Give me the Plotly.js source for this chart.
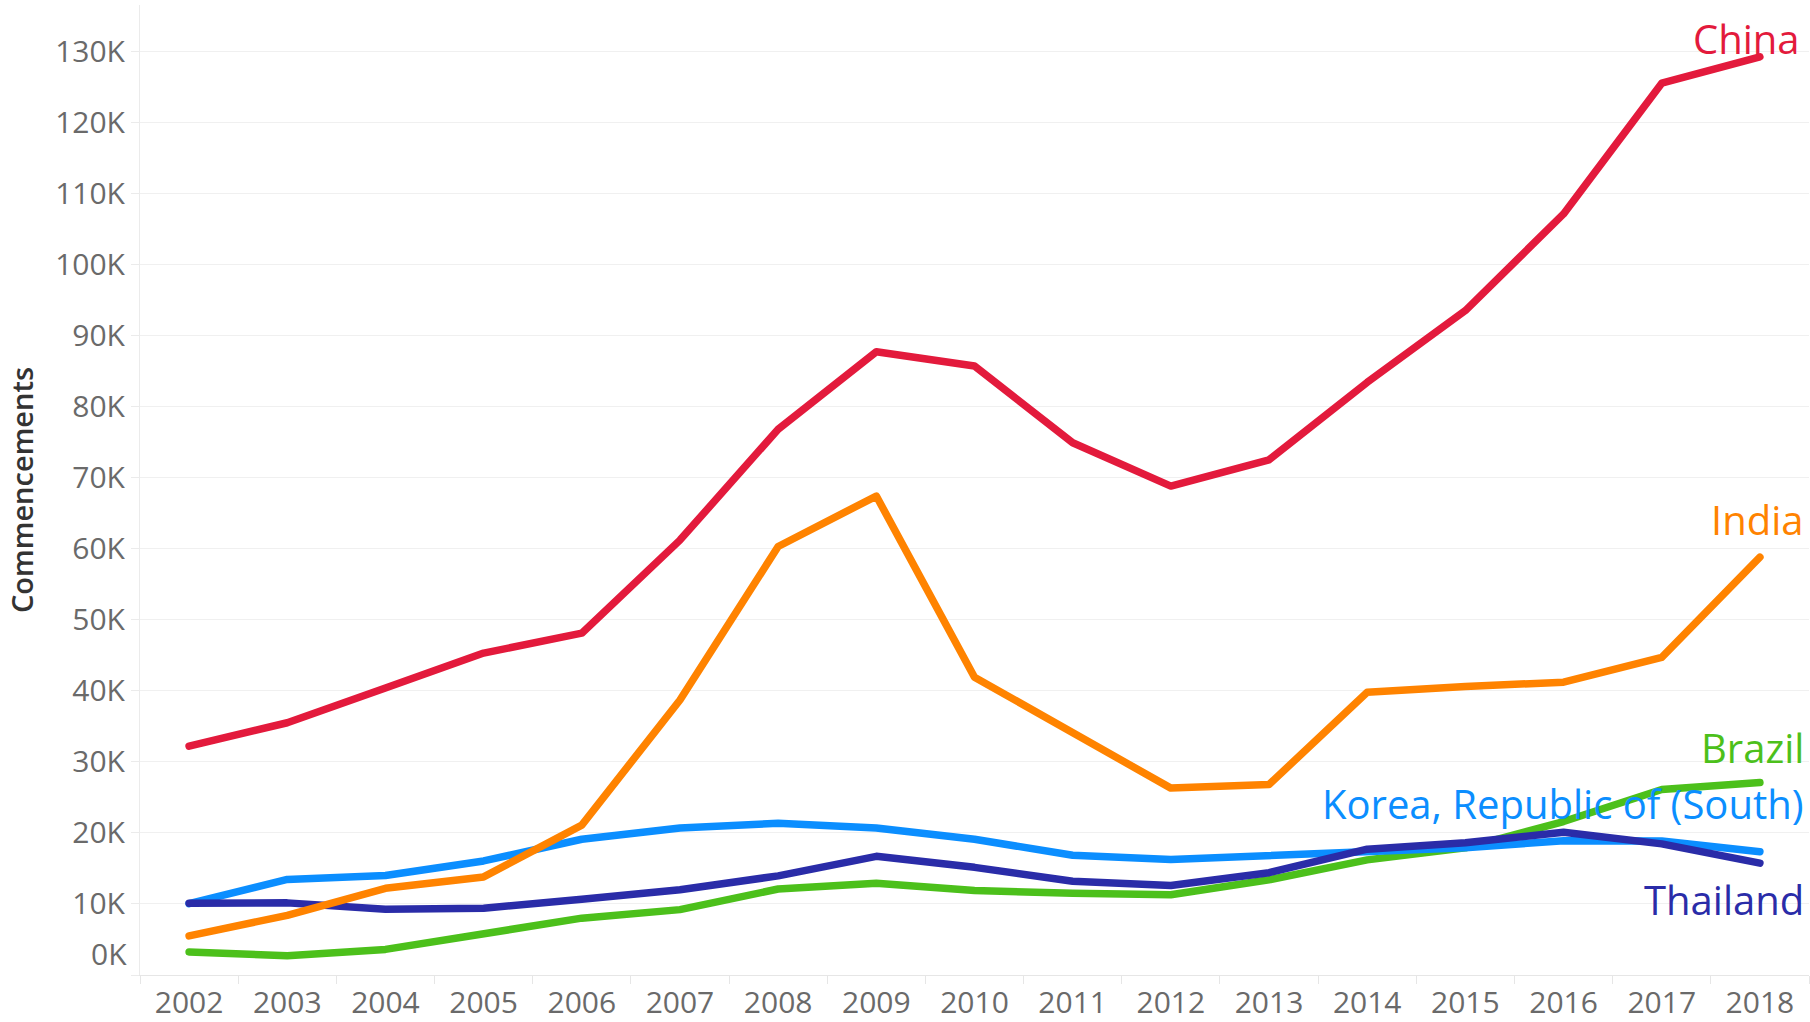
<!DOCTYPE html>
<html>
<head>
<meta charset="utf-8">
<script src="https://cdn.plot.ly/plotly-3.0.1.min.js"></script>
<style>
html, body { margin: 0; padding: 0; background: #ffffff; }
#chart { width: 1810px; height: 1022px; }
.scatterlayer .js-line { stroke-linecap: round; stroke-linejoin: round; }
</style>
</head>
<body>
<div id="chart"></div>
<script>
const years = ["2002","2003","2004","2005","2006","2007","2008","2009","2010","2011","2012","2013","2014","2015","2016","2017","2018"];

const china    = [32200, 35500, 40400, 45300, 48100, 61200, 76800, 87700, 85700, 74900, 68800, 72500, 83400, 93500, 107100, 125500, 129200];
const india    = [5500, 8400, 12200, 13800, 21100, 38700, 60300, 67400, 41900, 34100, 26300, 26800, 39800, 40600, 41200, 44700, 58800];
const brazil   = [3250, 2700, 3600, 5700, 8000, 9200, 12100, 12900, 11900, 11500, 11300, 13400, 16200, 17900, 21600, 26100, 27100];
const korea    = [10050, 13450, 14000, 16050, 19100, 20700, 21350, 20700, 19100, 16850, 16250, 16750, 17250, 17900, 18900, 18850, 17350];
const thailand = [10100, 10150, 9250, 9400, 10650, 12000, 13950, 16700, 15150, 13200, 12600, 14400, 17700, 18600, 20100, 18450, 15750];

const seriesNames = ["Brazil", "Korea, Republic of (South)", "Thailand", "India", "China"];
const seriesData = [brazil, korea, thailand, india, china];
const seriesColors = ["#4CC01B", "#0B8EFF", "#2A2CA8", "#FF8300", "#E31A3C"];
const labelYShift = [35, 48, -36, 38, 18];

const yTickVals = [0, 10000, 20000, 30000, 40000, 50000, 60000, 70000, 80000, 90000, 100000, 110000, 120000, 130000];
const yTickText = ["", "10K", "20K", "30K", "40K", "50K", "60K", "70K", "80K", "90K", "100K", "110K", "120K", "130K"];
const zeroLabel = "0K";
const yTitle = "Commencements";

const traces = seriesNames.map((name, i) => ({
  type: "scatter",
  mode: "lines",
  name: name,
  x: years,
  y: seriesData[i],
  line: { color: seriesColors[i], width: 7.5 },
  hoverinfo: "skip"
}));

const lastIndex = years.length - 1;
const annotations = seriesNames.map((name, i) => ({
  x: lastIndex,
  y: seriesData[i][lastIndex],
  xref: "x", yref: "y",
  text: name,
  showarrow: false,
  xanchor: "right", yanchor: "middle",
  xshift: name === "China" ? 42 : 46,
  yshift: labelYShift[i],
  font: { family: "Open Sans, Noto Sans, sans-serif", size: 40, color: seriesColors[i] }
}));

annotations.push({
  x: 0, xref: "paper",
  y: 0, yref: "y domain",
  text: zeroLabel,
  showarrow: false,
  xanchor: "right", yanchor: "middle",
  xshift: -11, yshift: 22,
  font: { family: "Open Sans, Noto Sans, sans-serif", size: 30, color: "#6a6a6a" }
});

const layout = {
  width: 1810, height: 1022,
  margin: { l: 140, r: 1, t: 5, b: 47 },
  paper_bgcolor: "#ffffff",
  plot_bgcolor: "#ffffff",
  showlegend: false,
  hovermode: false,
  font: { family: "Open Sans, Noto Sans, sans-serif", color: "#6a6a6a" },
  xaxis: {
    type: "category",
    range: [-0.5, years.length - 0.5],
    showgrid: false,
    zeroline: false,
    showline: true,
    linecolor: "#e6e6e6",
    linewidth: 1,
    ticks: "outside",
    tickson: "boundaries",
    ticklen: 8,
    tickcolor: "#e6e6e6",
    ticklabelstandoff: 1,
    tickfont: { size: 30, color: "#6a6a6a" },
    fixedrange: true
  },
  yaxis: {
    range: [0, 136500],
    tickvals: yTickVals,
    ticktext: yTickText,
    showgrid: true,
    gridcolor: "#f0f0f0",
    gridwidth: 1,
    zeroline: false,
    showline: true,
    linecolor: "#ebebeb",
    ticks: "outside",
    ticklen: 8,
    tickcolor: "#ebebeb",
    tickfont: { size: 30, color: "#6a6a6a" },
    title: { text: yTitle, font: { size: 29, color: "#333333", weight: 600 }, standoff: 13 },
    fixedrange: true
  },
  annotations: annotations
};

Plotly.newPlot("chart", traces, layout, { displayModeBar: false, staticPlot: true });
</script>
</body>
</html>
